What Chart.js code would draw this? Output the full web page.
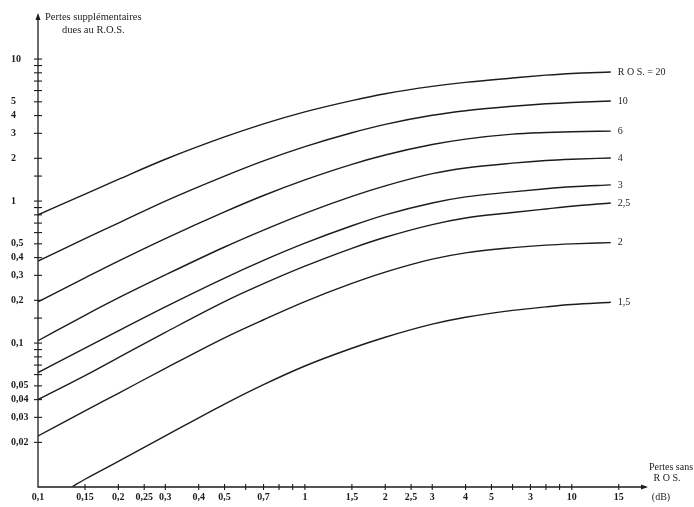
<!DOCTYPE html>
<html>
<head>
<meta charset="utf-8">
<script src="https://cdn.jsdelivr.net/npm/chart.js@4.4.0/dist/chart.umd.min.js"></script>
<style>
  body { margin: 0; background: #fff; }
</style>
</head>
<body>
<canvas id="chart" width="694" height="507"></canvas>
<script>
// extra loss due to R.O.S. (dB) against line loss without R.O.S. (dB)
const lossX = [0.1, 0.15, 0.2, 0.3, 0.5, 0.7, 1, 1.5, 2, 3, 4, 6, 8, 10, 14];
const ros20 = [0.80, 1.12, 1.42, 1.97, 2.83, 3.50, 4.25, 5.10, 5.70, 6.42, 6.85, 7.35, 7.70, 7.92, 8.1];
const ros10 = [0.378, 0.545, 0.70, 1.00, 1.50, 1.92, 2.42, 3.03, 3.47, 4.02, 4.33, 4.65, 4.84, 4.95, 5.06];
const ros6 = [0.195, 0.288, 0.378, 0.545, 0.84, 1.095, 1.41, 1.815, 2.11, 2.50, 2.73, 2.96, 3.04, 3.08, 3.11];
const ros4 = [0.104, 0.157, 0.208, 0.302, 0.475, 0.625, 0.82, 1.08, 1.28, 1.56, 1.71, 1.85, 1.93, 1.97, 2.01];
const ros3 = [0.062, 0.092, 0.122, 0.180, 0.287, 0.382, 0.505, 0.67, 0.80, 0.97, 1.07, 1.16, 1.22, 1.26, 1.30];
const ros25 = [0.040, 0.059, 0.079, 0.119, 0.196, 0.262, 0.348, 0.465, 0.556, 0.683, 0.76, 0.83, 0.88, 0.92, 0.97];
const ros2 = [0.0222, 0.0333, 0.0443, 0.0664, 0.109, 0.146, 0.196, 0.263, 0.316, 0.39, 0.432, 0.47, 0.49, 0.50, 0.51];
// the 1,5 curve only comes out of the bottom axis near 0,135
const ros15X = [0.135, 0.15, 0.2, 0.3, 0.5, 0.7, 1, 1.5, 2, 3, 4, 6, 8, 10, 14];
const ros15 = [0.0098, 0.011, 0.0147, 0.0222, 0.0372, 0.051, 0.069, 0.092, 0.110, 0.136, 0.152, 0.170, 0.180, 0.187, 0.194];

const rosNames = ['R O S. = 20', '10', '6', '4', '3', '2,5', '2', '1,5'];

const xTickValues = [0.1, 0.15, 0.2, 0.25, 0.3, 0.4, 0.5, 0.7, 1, 1.5, 2, 2.5, 3, 4, 5, 7, 10, 15];
const xTickLabels = ['0,1', '0,15', '0,2', '0,25', '0,3', '0,4', '0,5', '0,7', '1', '1,5', '2', '2,5', '3', '4', '5', '3', '10', '15'];
const xMinorTicks = [0.6, 0.8, 0.9, 6, 8, 9];
const yTickValues = [10, 5, 4, 3, 2, 1, 0.5, 0.4, 0.3, 0.2, 0.1, 0.05, 0.04, 0.03, 0.02];
const yTickLabels = ['10', '5', '4', '3', '2', '1', '0,5', '0,4', '0,3', '0,2', '0,1', '0,05', '0,04', '0,03', '0,02'];
const yMinorTicks = [9, 8, 7, 6, 1.5, 0.9, 0.8, 0.7, 0.6, 0.15, 0.09, 0.08, 0.07, 0.06];

const ink = '#1c1c1c';
const serif = "'Liberation Serif', 'DejaVu Serif', serif";

const series = [ros20, ros10, ros6, ros4, ros3, ros25, ros2].map((ys, i) => ({
    label: rosNames[i],
    data: ys.map((y, j) => ({ x: lossX[j], y: y }))
}));
series.push({
    label: rosNames[7],
    data: ros15.map((y, j) => ({ x: ros15X[j], y: y }))
});

const datasets = series.map(s => ({
    label: s.label,
    data: s.data,
    borderColor: ink,
    borderWidth: 1.4,
    pointRadius: 0,
    fill: false,
    cubicInterpolationMode: 'monotone'
}));

// axes, arrows, crossing tick marks and the loose captions
const decor = {
    id: 'decor',
    afterDatasetsDraw(chart) {
        const ctx = chart.ctx;
        const a = chart.chartArea;
        const xs = chart.scales.x;
        const ys = chart.scales.y;
        ctx.save();
        ctx.strokeStyle = ink;
        ctx.fillStyle = ink;
        ctx.lineWidth = 1.3;

        ctx.beginPath();
        ctx.moveTo(a.left, a.top + 2);
        ctx.lineTo(a.left, a.bottom);
        ctx.lineTo(a.right - 2, a.bottom);
        ctx.stroke();

        // arrow heads
        ctx.beginPath();
        ctx.moveTo(a.left, a.top);
        ctx.lineTo(a.left - 2.5, a.top + 7);
        ctx.lineTo(a.left + 2.5, a.top + 7);
        ctx.closePath();
        ctx.fill();
        ctx.beginPath();
        ctx.moveTo(a.right, a.bottom);
        ctx.lineTo(a.right - 7, a.bottom - 2.5);
        ctx.lineTo(a.right - 7, a.bottom + 2.5);
        ctx.closePath();
        ctx.fill();

        ctx.lineWidth = 1.1;
        xTickValues.concat(xMinorTicks).forEach(v => {
            if (v <= xs.min) return;
            const px = xs.getPixelForValue(v);
            ctx.beginPath();
            ctx.moveTo(px, a.bottom - 3);
            ctx.lineTo(px, a.bottom + 3);
            ctx.stroke();
        });
        yTickValues.concat(yMinorTicks).forEach(v => {
            const py = ys.getPixelForValue(v);
            ctx.beginPath();
            ctx.moveTo(a.left - 4, py);
            ctx.lineTo(a.left + 4, py);
            ctx.stroke();
        });

        // curve names at the right end of each line
        ctx.font = '10px ' + serif;
        ctx.textBaseline = 'middle';
        ctx.textAlign = 'left';
        chart.data.datasets.forEach((ds, i) => {
            const pts = chart.getDatasetMeta(i).data;
            const last = pts[pts.length - 1];
            ctx.fillText(ds.label, last.x + 7, last.y);
        });

        // axis captions
        ctx.font = '10.5px ' + serif;
        ctx.fillText('Pertes supplémentaires', 45, 17);
        ctx.fillText('dues au R.O.S.', 62, 30);
        ctx.font = '10px ' + serif;
        ctx.textAlign = 'center';
        ctx.fillText('Pertes sans', 671, 467);
        ctx.fillText('R O S.', 667, 478);
        ctx.fillText('(dB)', 661, 497);
        ctx.restore();
    }
};

new Chart(document.getElementById('chart').getContext('2d'), {
    type: 'line',
    data: { datasets: datasets },
    options: {
        responsive: false,
        animation: false,
        devicePixelRatio: 1,
        layout: { padding: { left: 11, top: 13, right: 46, bottom: 0 } },
        plugins: { legend: { display: false }, tooltip: { enabled: false } },
        scales: {
            x: {
                type: 'logarithmic',
                min: 0.1,
                max: 19.3,
                grid: { display: false, drawTicks: false },
                border: { display: false },
                afterFit: s => { s.height = 20; },
                afterBuildTicks: s => { s.ticks = xTickValues.map(v => ({ value: v })); },
                ticks: {
                    autoSkip: false,
                    maxRotation: 0,
                    padding: 4,
                    color: ink,
                    font: { family: serif, size: 10, weight: 'bold' },
                    callback: (v, i) => xTickLabels[i]
                }
            },
            y: {
                type: 'logarithmic',
                min: 0.0097,
                max: 21.1,
                grid: { display: false, drawTicks: false },
                border: { display: false },
                afterFit: s => { s.width = 27; },
                afterBuildTicks: s => { s.ticks = yTickValues.map(v => ({ value: v })); },
                ticks: {
                    autoSkip: false,
                    crossAlign: 'far',
                    color: ink,
                    font: { family: serif, size: 10, weight: 'bold' },
                    callback: (v, i) => yTickLabels[i]
                }
            }
        }
    },
    plugins: [decor]
});
</script>
</body>
</html>
